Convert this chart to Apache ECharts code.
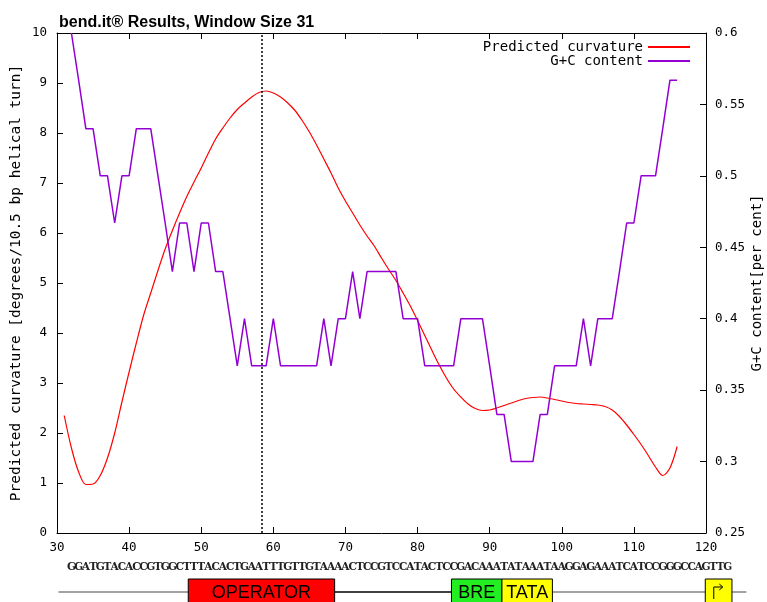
<!DOCTYPE html>
<html>
<head>
<meta charset="utf-8">
<script src="https://cdn.jsdelivr.net/npm/echarts@6/dist/echarts.min.js"></script>
<style>html,body{margin:0;padding:0;background:#fff}#c{width:767px;height:602px}</style>
</head>
<body>
<div id="c"></div>
<script>
// ---- data ----
const titleText = 'bend.it\u00ae Results, Window Size 31';
const xTicks = [30, 40, 50, 60, 70, 80, 90, 100, 110, 120];
const curvatureStart = 31;
const curvatureValues = [
  2.35, 1.70, 1.22, 0.97, 0.98, 1.15, 1.50, 2.00, 2.62, 3.22,
  3.80, 4.35, 4.80, 5.25, 5.68, 6.05, 6.40, 6.73, 7.02, 7.30,
  7.60, 7.88, 8.10, 8.30, 8.47, 8.60, 8.72, 8.81, 8.84, 8.80,
  8.72, 8.60, 8.45, 8.25, 8.02, 7.76, 7.48, 7.20, 6.90, 6.64,
  6.40, 6.16, 5.94, 5.74, 5.50, 5.27, 5.05, 4.80, 4.54, 4.25,
  3.95, 3.65, 3.36, 3.10, 2.88, 2.72, 2.58, 2.49, 2.45, 2.46,
  2.50, 2.55, 2.60, 2.65, 2.69, 2.71, 2.72, 2.70, 2.67, 2.64,
  2.61, 2.59, 2.58, 2.57, 2.56, 2.53, 2.46, 2.33, 2.16, 1.97,
  1.77, 1.55, 1.32, 1.15, 1.30, 1.73
];
const gcStart = 32;
const gcValues = [
  0.600, 0.567, 0.533, 0.533, 0.500, 0.500, 0.467, 0.500, 0.500, 0.533,
  0.533, 0.533, 0.500, 0.467, 0.433, 0.467, 0.467, 0.433, 0.467, 0.467,
  0.433, 0.433, 0.400, 0.367, 0.400, 0.367, 0.367, 0.367, 0.400, 0.367,
  0.367, 0.367, 0.367, 0.367, 0.367, 0.400, 0.367, 0.400, 0.400, 0.433,
  0.400, 0.433, 0.433, 0.433, 0.433, 0.433, 0.400, 0.400, 0.400, 0.367,
  0.367, 0.367, 0.367, 0.367, 0.400, 0.400, 0.400, 0.400, 0.367, 0.333,
  0.333, 0.300, 0.300, 0.300, 0.300, 0.333, 0.333, 0.367, 0.367, 0.367,
  0.367, 0.400, 0.367, 0.400, 0.400, 0.400, 0.433, 0.467, 0.467, 0.500,
  0.500, 0.500, 0.533, 0.567, 0.567
];
const maxCurvaturePos = 58.4;
const sequence = 'GGATGTACACCGTGGCTTTACACTGAATTTGTTGTAAAACTCCGTCCATACTCCGACAAATATAAATAAGGAGAAATCATCCGGGCCAGTTG';
const sequenceStart = 32;
const features = [
  { name: 'OPERATOR', from: 48.2, to: 68.5, color: '#ff0000' },
  { name: 'BRE', from: 84.7, to: 91.7, color: '#22ee22' },
  { name: 'TATA', from: 91.7, to: 98.7, color: '#ffff00' },
  { name: '', from: 119.9, to: 123.6, color: '#ffff00', tss: true }
];
const trackFrom = 30.2, trackTo = 125.6;

// ---- chart ----
const mono = 'DejaVu Sans Mono';
const chart = echarts.init(document.getElementById('c'), null, { renderer: 'canvas' });
const curvData = curvatureValues.map((v, i) => [curvatureStart + i, v]);
const gcData = gcValues.map((v, i) => [gcStart + i, v]);
const axisLine = { show: true, lineStyle: { color: '#000', width: 1 } };
const tick = { show: true, inside: true, length: 6, lineStyle: { color: '#000' } };

chart.setOption({
  animation: false,
  backgroundColor: '#fff',
  title: { text: titleText, left: 54, top: 10, textStyle: { fontFamily: 'Liberation Sans', fontWeight: 'bold', fontSize: 16, color: '#000' } },
  legend: {
    orient: 'vertical', right: 72, top: 35, align: 'right', itemWidth: 42, itemHeight: 2, itemGap: 0, icon: 'rect',
    textStyle: { fontFamily: mono, fontSize: 14, lineHeight: 13, color: '#000' },
    data: ['Predicted curvature', 'G+C content']
  },
  grid: { left: 57, right: 61, top: 33, bottom: 69, containLabel: false, outerBoundsMode: 'none' },
  xAxis: [
    { type: 'value', position: 'bottom', min: 30, max: 120, interval: 10, axisLine, axisTick: tick, splitLine: { show: false },
      axisLabel: { margin: 8, fontFamily: mono, fontSize: 12.5, color: '#000' } },
    { type: 'value', position: 'top', min: 30, max: 120, interval: 10, axisLine, axisTick: tick, splitLine: { show: false },
      axisLabel: { show: false } }
  ],
  yAxis: [
    { type: 'value', position: 'left', min: 0, max: 10, interval: 1, axisLine, axisTick: tick, splitLine: { show: false },
      axisLabel: { margin: 10, fontFamily: mono, fontSize: 12.5, color: '#000' },
      name: 'Predicted curvature [degrees/10.5 bp helical turn]', nameLocation: 'middle', nameRotate: 90, nameGap: 33,
      nameMoveOverlap: false,
      nameTextStyle: { fontFamily: mono, fontSize: 14.5, color: '#000' } },
    { type: 'value', position: 'right', min: 0.25, max: 0.6, interval: 0.05, axisLine, axisTick: tick, splitLine: { show: false },
      axisLabel: { margin: 9, fontFamily: mono, fontSize: 12.5, color: '#000' },
      name: 'G+C content[per cent]', nameLocation: 'middle', nameRotate: 90, nameGap: 44,
      nameMoveOverlap: false,
      nameTextStyle: { fontFamily: mono, fontSize: 14, color: '#000' } }
  ],
  series: [
    { name: 'Predicted curvature', type: 'line', xAxisIndex: 0, yAxisIndex: 0, data: curvData, showSymbol: false, symbol: 'none',
      smooth: 0.3, lineStyle: { color: '#ff0000', width: 1.2 }, itemStyle: { color: '#ff0000' },
      markLine: { silent: true, symbol: 'none', label: { show: false },
        lineStyle: { color: '#000', type: [2, 2], width: 1.5 }, data: [{ xAxis: maxCurvaturePos }] } },
    { name: 'G+C content', type: 'line', xAxisIndex: 0, yAxisIndex: 1, data: gcData, showSymbol: false, symbol: 'none',
      lineStyle: { color: '#9400d3', width: 1.5 }, itemStyle: { color: '#9400d3' } }
  ]
});

// ---- sequence & feature track below the axis ----
const px = v => chart.convertToPixel({ xAxisIndex: 0 }, v);
const g = [];
for (let i = 0; i < sequence.length; i++) {
  g.push({ type: 'text', x: px(sequenceStart + i), y: 567, silent: true,
    style: { text: sequence[i], fill: '#222', font: 'bold 10.5px "DejaVu Serif"', align: 'center', verticalAlign: 'middle' } });
}
const trackY = 592;
const segs = [[trackFrom, features[0].from, '#444', 1], [features[0].to, features[1].from, '#000', 1.6],
              [features[2].to, features[3].from, '#444', 1], [features[3].to, trackTo, '#444', 1]];
segs.forEach(s => g.push({ type: 'line', silent: true, shape: { x1: px(s[0]), y1: trackY, x2: px(s[1]), y2: trackY },
  style: { stroke: s[2], lineWidth: s[3] } }));
features.forEach(f => {
  const x1 = px(f.from), x2 = px(f.to);
  g.push({ type: 'rect', silent: true, shape: { x: x1, y: 579, width: x2 - x1, height: 30 },
    style: { fill: f.color, stroke: '#000', lineWidth: 1 } });
  if (f.name) g.push({ type: 'text', silent: true, x: (x1 + x2) / 2, y: 593,
    style: { text: f.name, fill: '#000', font: '18px "Liberation Sans"', align: 'center', verticalAlign: 'middle' } });
  if (f.tss) {
    const ax = x1 + 8.5;
    g.push({ type: 'polyline', silent: true, shape: { points: [[ax, 599], [ax, 587], [x1 + 17, 587]] },
      style: { stroke: '#000', lineWidth: 1, fill: null } });
    g.push({ type: 'polyline', silent: true, shape: { points: [[x1 + 14, 584], [x1 + 17.5, 587], [x1 + 14, 590]] },
      style: { stroke: '#000', lineWidth: 1, fill: null } });
  }
});
chart.setOption({ graphic: g });
</script>
</body>
</html>
